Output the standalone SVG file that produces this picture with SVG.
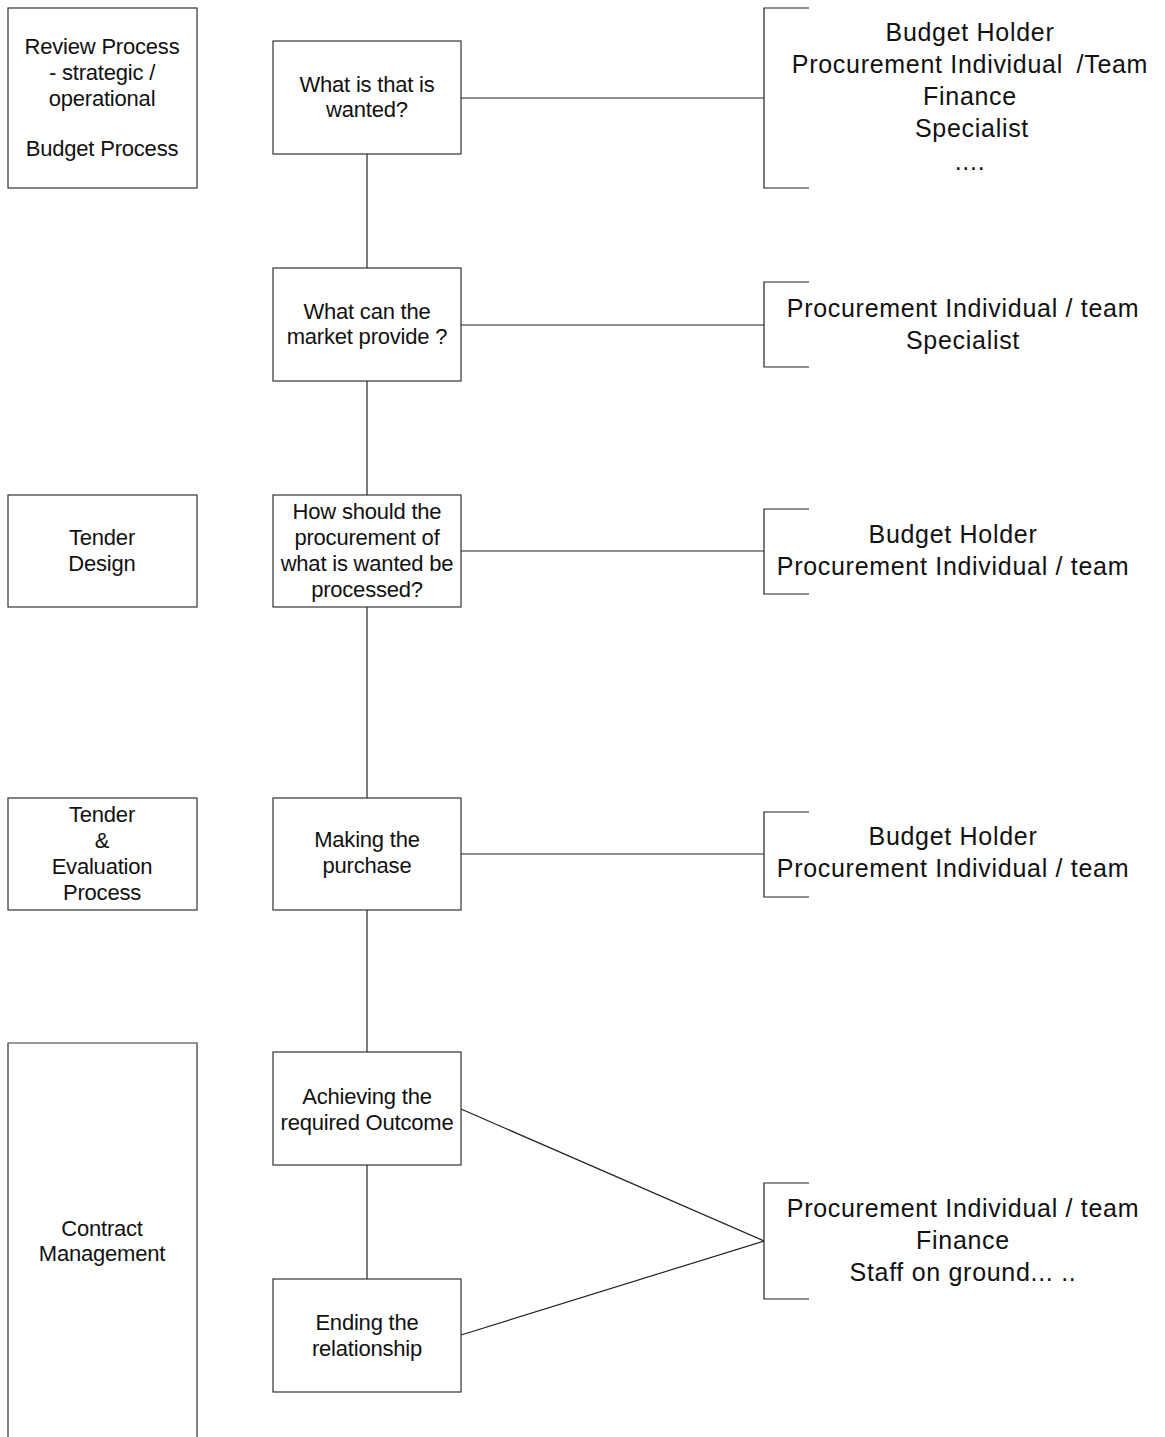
<svg xmlns="http://www.w3.org/2000/svg" width="1165" height="1437" viewBox="0 0 1165 1437">
<style>
.bx{fill:#fff;stroke:#333;stroke-width:1.2}
.ln{fill:none;stroke:#222;stroke-width:1.2}
.t{font-family:"Liberation Sans",Arial,sans-serif;font-size:22px;fill:#111;text-anchor:middle;letter-spacing:-0.2px}
.b{font-family:"Liberation Sans",Arial,sans-serif;font-size:25px;fill:#111;text-anchor:middle;letter-spacing:0.7px}
</style>
<rect width="1165" height="1437" fill="#fff"/>
<g id="connectors">
<path class="ln" d="M367 154V268M367 381V495M367 607V798M367 910V1052M367 1165V1279"/>
<path class="ln" d="M461 98H764M461 325H764M461 551H764M461 854H764"/>
<path class="ln" d="M461 1109L764 1241M461 1335L764 1241"/>
</g>
<g id="left1"><rect class="bx" x="8" y="8" width="189" height="180"/>
<text class="t" x="102" y="54">Review Process</text><text class="t" x="102" y="80">- strategic /</text><text class="t" x="102" y="106">operational</text><text class="t" x="102" y="156">Budget Process</text></g>
<g id="left2"><rect class="bx" x="8" y="495" width="189" height="112"/>
<text class="t" x="102" y="545">Tender</text><text class="t" x="102" y="571">Design</text></g>
<g id="left3"><rect class="bx" x="8" y="798" width="189" height="112"/>
<text class="t" x="102" y="822">Tender</text><text class="t" x="102" y="848">&amp;</text><text class="t" x="102" y="874">Evaluation</text><text class="t" x="102" y="900">Process</text></g>
<g id="left4"><path class="bx" d="M8 1437V1043H197V1437"/>
<text class="t" x="102" y="1236">Contract</text><text class="t" x="102" y="1261">Management</text></g>
<g id="n1"><rect class="bx" x="273" y="41" width="188" height="113"/>
<text class="t" x="367" y="92">What is that is</text><text class="t" x="367" y="117">wanted?</text></g>
<g id="n2"><rect class="bx" x="273" y="268" width="188" height="113"/>
<text class="t" x="367" y="319">What can the</text><text class="t" x="367" y="344">market provide ?</text></g>
<g id="n3"><rect class="bx" x="273" y="495" width="188" height="112"/>
<text class="t" x="367" y="519">How should the</text><text class="t" x="367" y="545">procurement of</text><text class="t" x="367" y="571">what is wanted be</text><text class="t" x="367" y="597">processed?</text></g>
<g id="n4"><rect class="bx" x="273" y="798" width="188" height="112"/>
<text class="t" x="367" y="847">Making the</text><text class="t" x="367" y="873">purchase</text></g>
<g id="n5"><rect class="bx" x="273" y="1052" width="188" height="113"/>
<text class="t" x="367" y="1104">Achieving the</text><text class="t" x="367" y="1130">required Outcome</text></g>
<g id="n6"><rect class="bx" x="273" y="1279" width="188" height="113"/>
<text class="t" x="367" y="1330">Ending the</text><text class="t" x="367" y="1356">relationship</text></g>
<g id="r1"><path class="ln" d="M809 8H764V188H809"/>
<text class="b" x="970" y="41">Budget Holder</text><text class="b" x="970" y="73">Procurement Individual <tspan dx="6">/Team</tspan></text><text class="b" x="970" y="105">Finance</text><text class="b" x="972" y="137">Specialist</text><text class="b" x="970" y="170">....</text></g>
<g id="r2"><path class="ln" d="M809 282H764V367H809"/>
<text class="b" x="963" y="317">Procurement Individual / team</text><text class="b" x="963" y="349">Specialist</text></g>
<g id="r3"><path class="ln" d="M809 509H764V594H809"/>
<text class="b" x="953" y="543">Budget Holder</text><text class="b" x="953" y="575">Procurement Individual / team</text></g>
<g id="r4"><path class="ln" d="M809 812H764V897H809"/>
<text class="b" x="953" y="845">Budget Holder</text><text class="b" x="953" y="877">Procurement Individual / team</text></g>
<g id="r5"><path class="ln" d="M809 1183H764V1299H809"/>
<text class="b" x="963" y="1217">Procurement Individual / team</text><text class="b" x="963" y="1249">Finance</text><text class="b" x="963" y="1281">Staff on ground... ..</text></g>
</svg>
